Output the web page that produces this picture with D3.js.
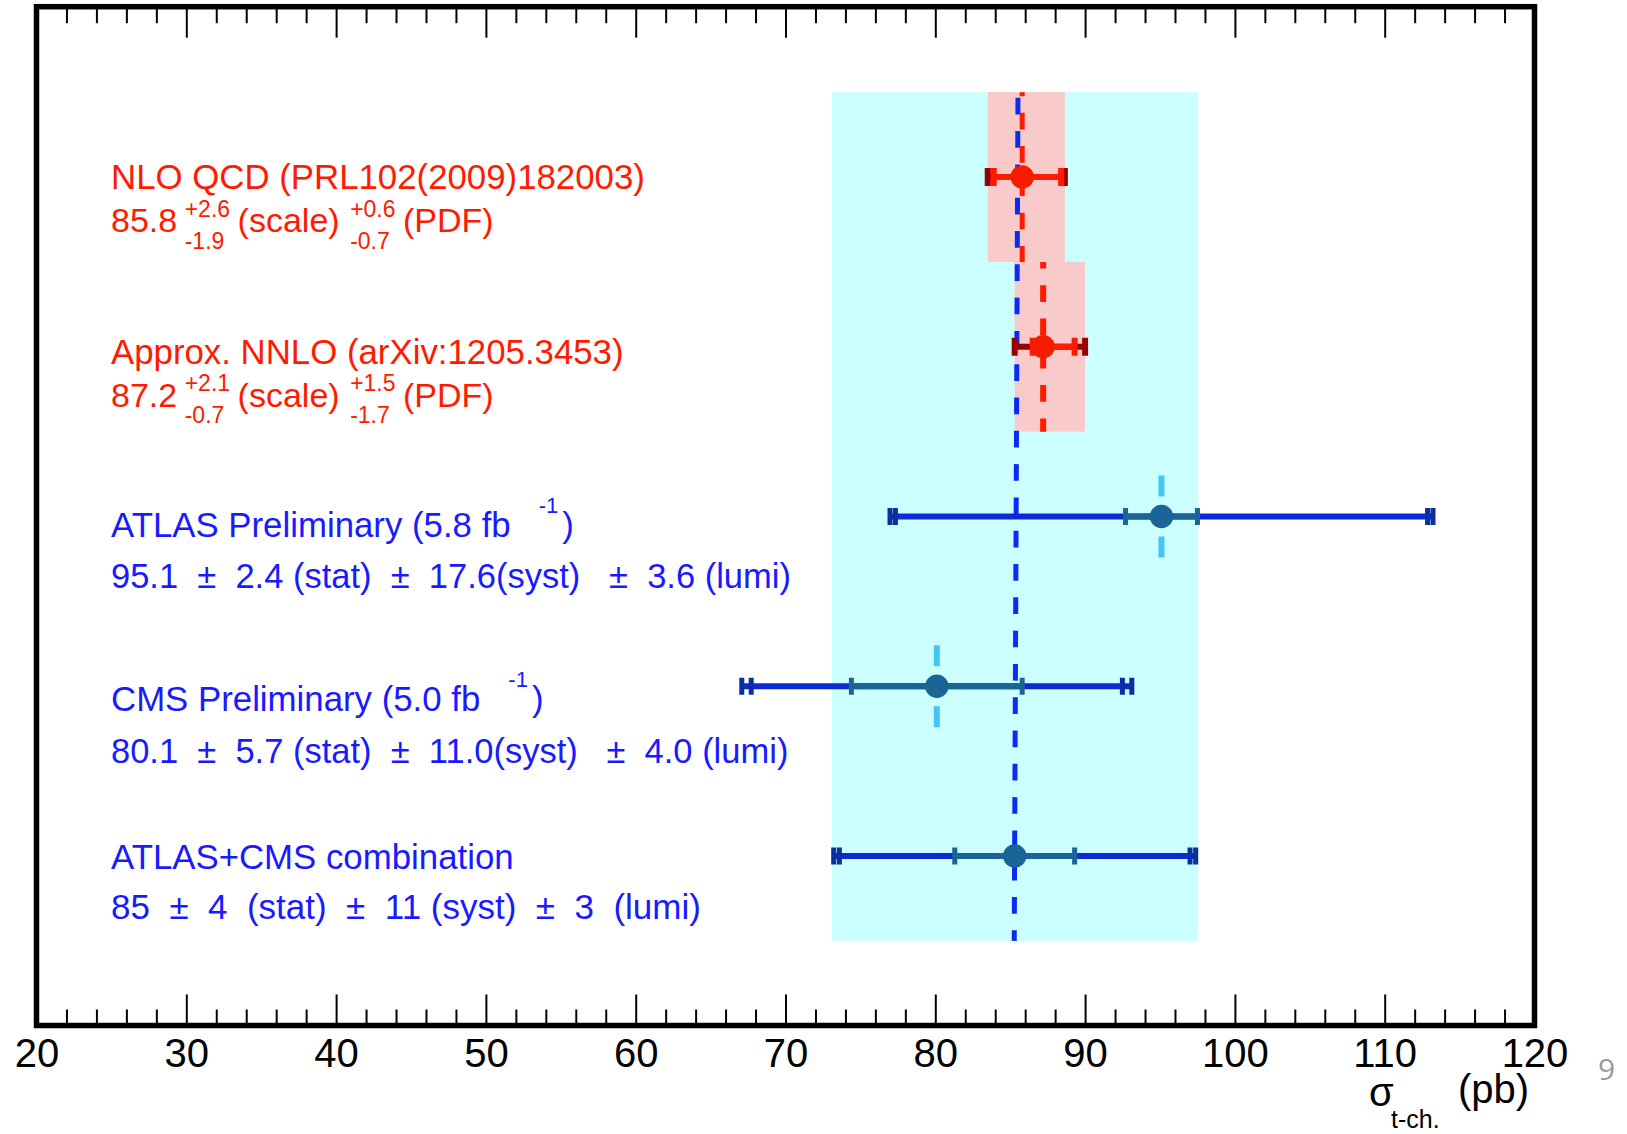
<!DOCTYPE html>
<html>
<head>
<meta charset="utf-8">
<script src="https://cdn.jsdelivr.net/npm/d3@7"></script>
<style>
  body { margin: 0; background: #fff; }
  svg { display: block; font-family: "Liberation Sans", Arial, Helvetica, sans-serif; }
</style>
</head>
<body>
<svg id="chart" width="1627" height="1134"></svg>
<script>
// rows from top to bottom
const rowKeys = ["nlo", "nnlo", "atlas", "cms", "comb"];

// theory predictions
const theoryTitles = ["NLO QCD (PRL102(2009)182003)", "Approx. NNLO (arXiv:1205.3453)"];
const theoryCentral = [85.8, 87.2];
const scaleUp = [2.6, 2.1];
const scaleDown = [1.9, 0.7];
const pdfUp = [0.6, 1.5];
const pdfDown = [0.7, 1.7];
// outer edge of the total (scale+PDF) band as drawn
const theoryLow = [83.5, 85.3];
const theoryHigh = [88.65, 90.0];

// measurements
const expTitles = ["ATLAS Preliminary (5.8 fb", "CMS Preliminary (5.0 fb", "ATLAS+CMS combination"];
const expLumiUnit = ["-1", "-1", ""];
const expCentral = [95.1, 80.1, 85.3];
const expStat = [2.4, 5.7, 4];
const expSyst = [17.6, 11.0, 11];
const expLumi = [3.6, 4.0, 3];
const expResultText = [
    "95.1  \u00b1  2.4 (stat)  \u00b1  17.6(syst)   \u00b1  3.6 (lumi)",
    "80.1  \u00b1  5.7 (stat)  \u00b1  11.0(syst)   \u00b1  4.0 (lumi)",
    "85  \u00b1  4  (stat)  \u00b1  11 (syst)  \u00b1  3  (lumi)"
];
// combination band and the dashed combination line (top, bottom) as drawn
const combBand = [73.1, 97.55];
const combLine = [85.52, 85.27];

const majorTicks = d3.range(20, 121, 10);
const minorTicks = d3.range(20, 121, 2).filter(v => v % 10 !== 0);

// layout
const frame = { left: 36.5, right: 1534.5, top: 6.7, bottom: 1025.5 };
const textLeft = 111;
const line1Offset = [12, 17, 20.5, 25, 13];
const line2Offset = [55, 60, 71, 77, 63];
const line2Size = [34, 34, 34.5, 34.5, 35];

const red = "#ff1a00", darkRed = "#990000", pointRed = "#f51c00";
const textBlue = "#1a1aff", lineBlue = "#0b2bd6", capBlue = "#0a2f9e", statTeal = "#1b6496";

const svg = d3.select("#chart");

const x = d3.scaleLinear().domain([20, 120]).range([frame.left, frame.right]);
const y = d3.scalePoint().domain(rowKeys).range([177, 856]);
const half = y.step() / 2;

const quad = (...v) => Math.sqrt(d3.sum(v, d => d * d));
const comb = expCentral.length - 1;

// combination band
svg.append("rect")
    .attr("x", x(combBand[0]))
    .attr("y", y(rowKeys[0]) - half)
    .attr("width", x(combBand[1]) - x(combBand[0]))
    .attr("height", y(rowKeys[4]) - y(rowKeys[0]) + 2 * half)
    .attr("fill", "#ccffff");

// theory bands
theoryCentral.forEach((c, i) => {
    svg.append("rect")
        .attr("x", x(theoryLow[i]))
        .attr("y", y(rowKeys[i]) - half)
        .attr("width", x(theoryHigh[i]) - x(theoryLow[i]))
        .attr("height", 2 * half)
        .attr("fill", "#f9caca");
});

// combination dashed line
svg.append("line")
    .attr("x1", x(combLine[0])).attr("x2", x(combLine[1]))
    .attr("y1", y(rowKeys[0]) - half).attr("y2", y(rowKeys[4]) + half)
    .attr("stroke", "#0a2cf0").attr("stroke-width", 5)
    .attr("stroke-dasharray", "16.7 16.6").attr("stroke-dashoffset", 27.6);

// theory dashed central lines
theoryCentral.forEach((c, i) => {
    svg.append("line")
        .attr("x1", x(c)).attr("x2", x(c))
        .attr("y1", y(rowKeys[i]) - half).attr("y2", y(rowKeys[i]) + half)
        .attr("stroke", red).attr("stroke-width", i === 0 ? 5 : 6)
        .attr("stroke-dasharray", "16.7 16.6").attr("stroke-dashoffset", i === 0 ? 12.7 : 10);
});

// measurement short dashed lines
expCentral.forEach((c, j) => {
    if (j === comb) return;
    const yy = y(rowKeys[j + 2]);
    svg.append("line")
        .attr("x1", x(c)).attr("x2", x(c))
        .attr("y1", yy - 41).attr("y2", yy + 41)
        .attr("stroke", "#44c6f2").attr("stroke-width", 6)
        .attr("stroke-dasharray", "21 40");
});

function cap(v, yy, w, h, color) {
    svg.append("rect")
        .attr("x", x(v) - w / 2).attr("y", yy - h / 2)
        .attr("width", w).attr("height", h)
        .attr("fill", color);
}

// theory error bars
theoryCentral.forEach((c, i) => {
    const yy = y(rowKeys[i]);
    svg.append("line")
        .attr("x1", x(theoryLow[i])).attr("x2", x(theoryHigh[i]))
        .attr("y1", yy).attr("y2", yy)
        .attr("stroke", darkRed).attr("stroke-width", 6);
    svg.append("line")
        .attr("x1", x(c - scaleDown[i])).attr("x2", x(c + scaleUp[i]))
        .attr("y1", yy).attr("y2", yy)
        .attr("stroke", red).attr("stroke-width", 6);
    cap(theoryLow[i], yy, 6, 18, darkRed);
    cap(theoryHigh[i], yy, 6, 18, darkRed);
    cap(c - scaleDown[i], yy, 6, 18, red);
    cap(c + scaleUp[i], yy, 6, 18, red);
    svg.append("circle").attr("cx", x(c)).attr("cy", yy).attr("r", 11.7).attr("fill", pointRed);
});

// measurement error bars
expCentral.forEach((c, j) => {
    const yy = y(rowKeys[j + 2]);
    const sy = quad(expStat[j], expSyst[j]);
    const tot = quad(expStat[j], expSyst[j], expLumi[j]);
    svg.append("line")
        .attr("x1", x(c - tot)).attr("x2", x(c + tot))
        .attr("y1", yy).attr("y2", yy)
        .attr("stroke", lineBlue).attr("stroke-width", 6);
    svg.append("line")
        .attr("x1", x(c - expStat[j])).attr("x2", x(c + expStat[j]))
        .attr("y1", yy).attr("y2", yy)
        .attr("stroke", statTeal).attr("stroke-width", 6);
    [c - tot, c + tot, c - sy, c + sy].forEach(v => cap(v, yy, 5, 17, capBlue));
    [c - expStat[j], c + expStat[j]].forEach(v => cap(v, yy, 5, 17, statTeal));
    svg.append("circle").attr("cx", x(c)).attr("cy", yy).attr("r", 11.7).attr("fill", statTeal);
});

// labels
const labels = svg.append("g");
const fmt = d3.format(".1f");

function addText(xx, yy, str, size, color) {
    return labels.append("text")
        .attr("x", xx).attr("y", yy)
        .attr("font-size", size).attr("fill", color)
        .style("white-space", "pre")
        .text(str);
}
const len = t => t.node().getComputedTextLength();

theoryCentral.forEach((c, i) => {
    const yy = y(rowKeys[i]);
    addText(textLeft, yy + line1Offset[i], theoryTitles[i], 34.8, red);
    const b = yy + line2Offset[i];
    let cx = textLeft;
    const main = addText(cx, b, fmt(c), line2Size[i], red);
    cx += len(main) + 7.5;
    const s1 = addText(cx, b - 15.5, "+" + fmt(scaleUp[i]), 23, red);
    const s2 = addText(cx, b + 16.5, "-" + fmt(scaleDown[i]), 23, red);
    cx += Math.max(len(s1), len(s2)) + 7.5;
    const sc = addText(cx, b, "(scale)", line2Size[i], red);
    cx += len(sc) + 10.5;
    const p1 = addText(cx, b - 15.5, "+" + fmt(pdfUp[i]), 23, red);
    const p2 = addText(cx, b + 16.5, "-" + fmt(pdfDown[i]), 23, red);
    cx += Math.max(len(p1), len(p2)) + 7.5;
    addText(cx, b, "(PDF)", line2Size[i], red);
});

expTitles.forEach((title, j) => {
    const yy = y(rowKeys[j + 2]);
    const b1 = yy + line1Offset[j + 2];
    const t = addText(textLeft, b1, title, 34.8, textBlue);
    if (expLumiUnit[j]) {
        const ex = textLeft + len(t) + 28;
        const s = addText(ex, b1 - 24, expLumiUnit[j], 22, textBlue);
        addText(ex + len(s) + 4, b1, ")", 34.8, textBlue);
    }
    addText(textLeft, yy + line2Offset[j + 2], expResultText[j], line2Size[j + 2], textBlue);
});

// axes
function styleAxis(g) {
    g.select(".domain").remove();
    g.selectAll("line").attr("stroke", "#000").attr("stroke-width", 2);
    g.attr("font-family", null);
    g.selectAll("text")
        .attr("font-size", 40)
        .attr("fill", "#000")
        .style("font-family", '"Liberation Sans", Arial, Helvetica, sans-serif');
}

svg.append("g")
    .attr("transform", `translate(0,${frame.bottom})`)
    .call(d3.axisBottom(x).tickValues(minorTicks).tickSize(-16).tickFormat(""))
    .call(styleAxis);
svg.append("g")
    .attr("transform", `translate(0,${frame.bottom})`)
    .call(d3.axisBottom(x).tickValues(majorTicks).tickSize(-31).tickPadding(13).tickFormat(d3.format("d")))
    .call(styleAxis);
svg.append("g")
    .attr("transform", `translate(0,${frame.top})`)
    .call(d3.axisTop(x).tickValues(minorTicks).tickSize(-16.5).tickFormat(""))
    .call(styleAxis);
svg.append("g")
    .attr("transform", `translate(0,${frame.top})`)
    .call(d3.axisTop(x).tickValues(majorTicks).tickSize(-31).tickFormat(""))
    .call(styleAxis);

// frame
svg.append("rect")
    .attr("x", frame.left).attr("y", frame.top)
    .attr("width", frame.right - frame.left)
    .attr("height", frame.bottom - frame.top)
    .attr("fill", "none").attr("stroke", "#000").attr("stroke-width", 5.5);

// axis title
addText(1369, 1106, "\u03c3", 40, "#000");
addText(1391, 1128, "t-ch.", 25, "#000");
addText(1458, 1103, "(pb)", 40, "#000");

// page number
svg.append("text")
    .attr("x", 1598).attr("y", 1080)
    .attr("font-size", 30).attr("fill", "#9a9a9a")
    .style("font-family", '"Open Sans", sans-serif')
    .text("9");
</script>
</body>
</html>
